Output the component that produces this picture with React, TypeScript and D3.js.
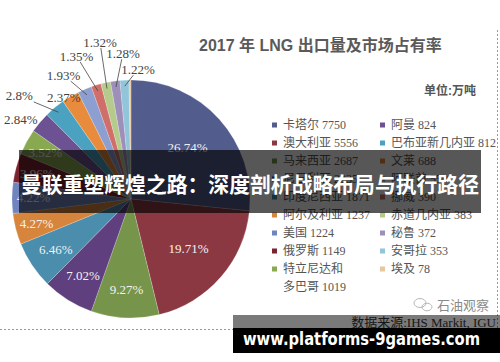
import React from 'react';
import * as d3 from 'd3';

// 2017 LNG exports (万吨) and market share (%), pie order = legend order
const countries = [
  '卡塔尔', '澳大利亚', '马来西亚', '尼日利亚', '印度尼西亚', '阿尔及利亚', '美国', '俄罗斯', '特立尼达和多巴哥',
  '阿曼', '巴布亚新几内亚', '文莱', '阿联酋', '挪威', '赤道几内亚', '秘鲁', '安哥拉', '埃及',
];
const volumes = [7750, 5556, 2687, 2035, 1871, 1237, 1224, 1149, 1019, 824, 812, 688, 559, 390, 383, 372, 353, 78];
const shares = [26.74, 19.71, 9.27, 7.02, 6.46, 4.27, 4.22, 3.96, 3.52, 2.84, 2.8, 2.37, 1.93, 1.35, 1.32, 1.28, 1.22, 0.27];

const COLORS = [
  '#525d8e', '#8c3843', '#76954a', '#5f3f7e', '#4a8dad', '#d7843c', '#7084bf', '#7c2330', '#88a94f',
  '#6c5293', '#4aa2c0', '#e88b3c', '#8c9fd0', '#d06f69', '#b5cb8c', '#9d8fba', '#92c4da', '#e6c8a0',
];

const TITLE = '2017 年 LNG 出口量及市场占有率';
const UNIT = '单位:万吨';
const SOURCE = '数据来源:IHS Markit, IGU';
const BANNER = '曼联重塑辉煌之路：深度剖析战略布局与执行路径';
const WATERMARK = 'www.platforms-9games.com';

const W = 500;
const H = 362;
const CX = 131;
const CY = 199;
const R = 119;

// fanned outside labels for the small slices: [angle nudge, radius]
const OUTER_LAYOUT = [
  [-0.072, 136], [-0.129, 152], [-0.05, 122], [-0.098, 141],
  [-0.066, 153], [0.019, 160], [0.078, 146], [0.109, 130],
];

const SERIF = '"Liberation Serif", "Noto Sans CJK SC", serif';
const SANS = '"Liberation Sans", "Noto Sans CJK SC", sans-serif';

const polar = (a: number, r: number) => [CX + r * Math.sin(a), CY - r * Math.cos(a)];
const fmt = (v: number) => `${v}%`;

const App = () => {
  const pie = d3.pie<number>().sort(null).value(d => d);
  const arcs = pie(shares);
  const arc = d3.arc<d3.PieArcDatum<number>>().innerRadius(0).outerRadius(R);

  const inner = arcs.filter(a => a.data >= 3);
  const outer = arcs.filter(a => a.data >= 1 && a.data < 3);

  const legendY = d3.scaleLinear().domain([0, 1]).range([125, 143]);
  const legendCols = [
    { x: 272, items: d3.range(0, 9) },
    { x: 380, items: d3.range(9, 18) },
  ];

  return (
    <svg width={W} height={H} style={{ position: 'absolute', left: 0, top: 0, background: '#fff' }}>
      <rect width={W} height={H} fill="#fff" />

      {/* pie */}
      <g transform={`translate(${CX},${CY})`}>
        {arcs.map((a, i) => (
          <path key={i} d={arc(a) || ''} fill={COLORS[i]} stroke="#fff" strokeOpacity={0.5} strokeWidth={0.4} />
        ))}
      </g>

      {inner.map((a) => {
        const mid = (a.startAngle + a.endAngle) / 2;
        const r = a.data > 15 ? R * 0.64 : a.data > 5 ? R * 0.76 : R * 0.82;
        const [x, y] = polar(mid, r);
        return (
          <text key={a.index} x={x} y={y} textAnchor="middle" dominantBaseline="central"
            fontFamily={SERIF} fontSize={13} fill="#f2f2f2">
            {fmt(a.data)}
          </text>
        );
      })}

      {outer.map((a, k) => {
        const mid = (a.startAngle + a.endAngle) / 2;
        const [nudge, lr] = OUTER_LAYOUT[k];
        const [lx, ly] = polar(mid + nudge, lr);
        const [ex, ey] = polar(mid, R * 0.95);
        const vx = ex - lx;
        const vy = ey - ly;
        const t = Math.min(vx ? 17 / Math.abs(vx) : Infinity, vy ? 6 / Math.abs(vy) : Infinity);
        const sx = lx + vx * t;
        const sy = ly + vy * t;
        const rest = Math.hypot(ex - sx, ey - sy);
        return (
          <g key={a.index}>
            {t < 1 && rest > 8 && (
              <line x1={sx} y1={sy} x2={ex} y2={ey} stroke="#444" strokeWidth={0.8} />
            )}
            <text x={lx} y={ly} textAnchor="middle" dominantBaseline="central"
              fontFamily={SERIF} fontSize={13} fill="#444">
              {fmt(a.data)}
            </text>
          </g>
        );
      })}

      {/* title and unit */}
      <text x={199} y={45} dominantBaseline="central" fontFamily={SANS} fontWeight="bold" fontSize={16} fill="#5a5a5a">
        {TITLE}
      </text>
      <text x={476} y={91} textAnchor="end" dominantBaseline="central" fontFamily={SANS} fontWeight="bold" fontSize={12} fill="#555">
        {UNIT}
      </text>

      {/* legend */}
      {legendCols.map((col, ci) => (
        <g key={ci}>
          {col.items.map((idx, row) => {
            const y = legendY(row);
            const label = `${countries[idx]} ${volumes[idx]}`;
            const wrap = ci === 0 && countries[idx].length * 12 + 4 + String(volumes[idx]).length * 6 > 94;
            return (
              <g key={idx}>
                <rect x={col.x} y={y - 2.5} width={5} height={5} fill={COLORS[idx]} />
                {wrap ? (
                  <text x={col.x + 11} y={y} dominantBaseline="central" fontFamily={SERIF} fontSize={12} fill="#555">
                    <tspan x={col.x + 11} y={y}>{countries[idx].slice(0, 5)}</tspan>
                    <tspan x={col.x + 11} y={legendY(row + 1)}>{`${countries[idx].slice(5)} ${volumes[idx]}`}</tspan>
                  </text>
                ) : (
                  <text x={col.x + 11} y={y} dominantBaseline="central" fontFamily={SERIF} fontSize={12} fill="#555">
                    {label}
                  </text>
                )}
              </g>
            );
          })}
        </g>
      ))}

      {/* frame dots */}
      <line x1={497.5} y1={30} x2={497.5} y2={330} stroke="#9a9a9a" strokeDasharray="2,2" />
      <line x1={0} y1={329.5} x2={497.5} y2={329.5} stroke="#9a9a9a" strokeDasharray="2,2" />

      {/* wechat mark */}
      <g stroke="#b0b0b0" fill="none" strokeWidth={0.9}>
        <ellipse cx={420} cy={303} rx={6} ry={4.5} />
        <ellipse cx={427} cy={307} rx={5} ry={3.8} />
      </g>
      <text x={437} y={305} dominantBaseline="central" fontFamily={SANS} fontSize={13} fill="#8a8a8a">石油观察</text>

      <text x={496} y={322} textAnchor="end" dominantBaseline="central" fontFamily={SERIF} fontSize={13} fill="#333">
        {SOURCE}
      </text>

      {/* overlay banner */}
      <rect x={19} y={150} width={462} height={63} fill="rgba(0,0,0,0.66)" />
      <text x={21} y={183} dominantBaseline="central" fontFamily='"Noto Sans CJK SC", sans-serif'
        fontWeight="bold" fontSize={21} fill="#fff" textLength={458} lengthAdjust="spacingAndGlyphs">
        {BANNER}
      </text>

      {/* watermark */}
      <rect x={233} y={315} width={267} height={13} fill="rgba(0,0,0,0.52)" />
      <rect x={233} y={328} width={267} height={25} fill="#000" />
      <text x={243} y={339} dominantBaseline="central" fontFamily='"DejaVu Sans", sans-serif'
        fontWeight="bold" fontSize={17} fill="#fff" textLength={237} lengthAdjust="spacingAndGlyphs">
        {WATERMARK}
      </text>
    </svg>
  );
};

export default App;
